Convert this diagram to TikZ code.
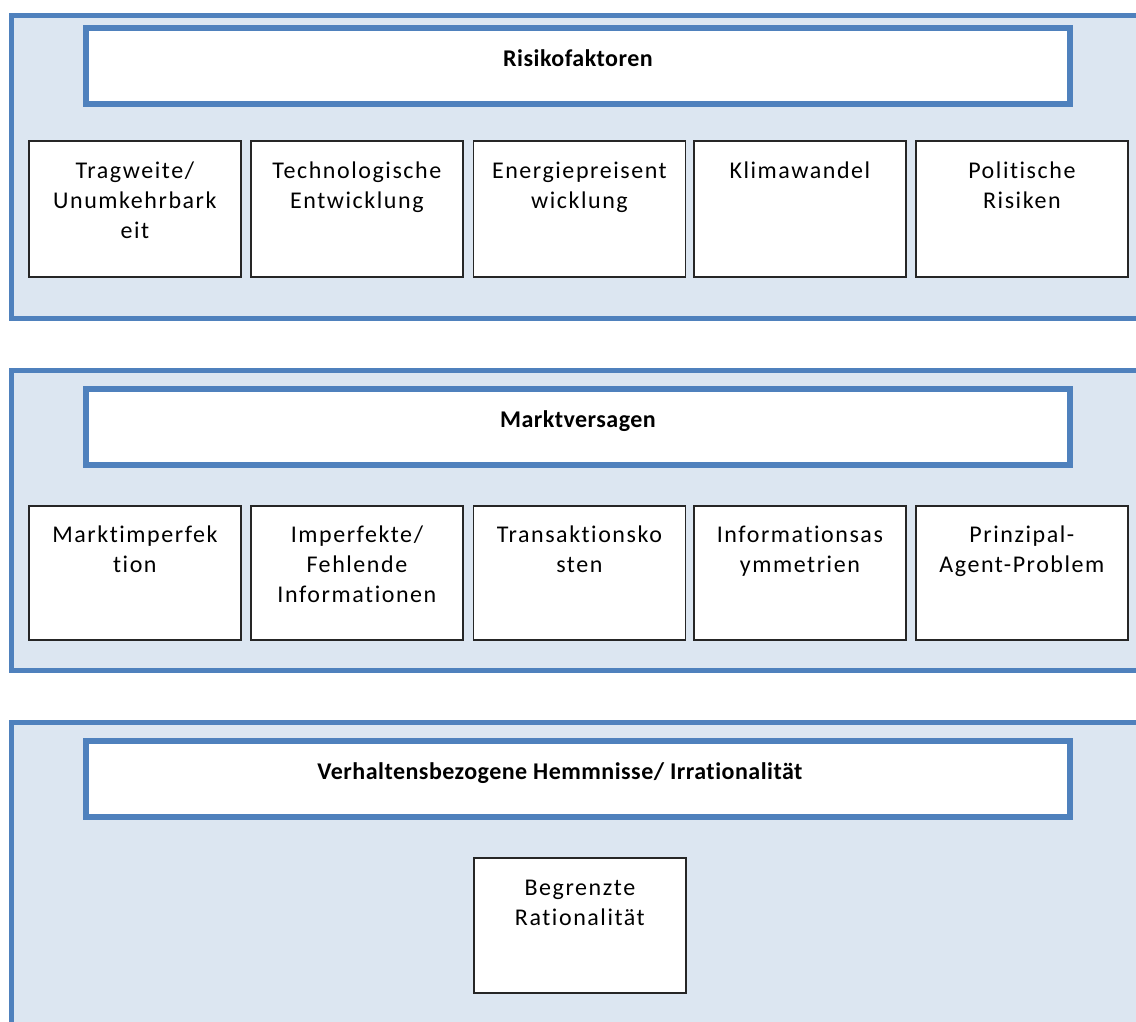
\documentclass[tikz,border=0pt]{standalone}
\usepackage{fontspec}
\setmainfont{Carlito}[Ligatures={NoCommon,NoContextual}]
\newfontfamily\cellfont{Carlito}[Ligatures={NoCommon,NoContextual},LetterSpace=6.5]
\newfontfamily\headfont{Carlito}[Ligatures={NoCommon,NoContextual},LetterSpace=2,
  UprightFont=*-Bold]
\definecolor{panelfill}{HTML}{DCE6F1}
\definecolor{panelline}{HTML}{4F81BD}
\definecolor{cellline}{HTML}{262626}

% Text of a cell: top-aligned block, first baseline 36.7pt below the frame
\newcommand\cellbody[1]{%
  \parbox[t][134pt][t]{210pt}{\centering\cellfont\fontsize{24}{30}\selectfont
    \rule{0pt}{36.7pt}#1\par}}

\begin{document}
\begin{tikzpicture}[x=1pt,y=-1pt,
  panel/.style={draw=panelline, line width=5pt, fill=panelfill},
  titlebox/.style={draw=panelline, line width=6pt, fill=white,
    minimum width=984pt, minimum height=76pt, inner sep=0pt,
    text height=10pt, text depth=10pt,
    font=\headfont\fontsize{24}{30}\selectfont},
  cell/.style={draw=cellline, line width=1.8pt, fill=white,
    inner sep=0pt, anchor=north west,
    minimum width=212pt, minimum height=136pt},
]
\useasboundingbox (0,0) rectangle (1136,1021);

% ---- Risikofaktoren
\path[panel] (11,15.5) rectangle (1160,318);
\node[titlebox] (t1) at (578,66) {Risikofaktoren};
\node[cell] (r1) at (28,140)  {\cellbody{Tragweite/\\Unumkehrbark\\eit}};
\node[cell] (r2) at (250,140) {\cellbody{Technologische\\Entwicklung}};
\node[cell] (r3) at (472.5,140) {\cellbody{Energiepreisent\\wicklung}};
\node[cell] (r4) at (693,140) {\cellbody{Klimawandel}};
\node[cell] (r5) at (915,140) {\cellbody{Politische\\Risiken}};

% ---- Marktversagen
\path[panel] (11,370) rectangle (1160,670.5);
\node[titlebox] (t2) at (578,427) {Marktversagen};
\node[cell,minimum height=134pt] (m1) at (28,505)  {\cellbody{Marktimperfek\\tion}};
\node[cell,minimum height=134pt] (m2) at (250,505) {\cellbody{Imperfekte/\\Fehlende\\Informationen}};
\node[cell,minimum height=134pt] (m3) at (472.5,505) {\cellbody{Transaktionsko\\sten}};
\node[cell,minimum height=134pt] (m4) at (693,505) {\cellbody{Informationsas\\ymmetrien}};
\node[cell,minimum height=134pt] (m5) at (915,505) {\cellbody{Prinzipal-\\Agent-Problem}};

% ---- Verhaltensbezogene Hemmnisse
\path[panel] (11,722.5) rectangle (1160,1040);
\node[titlebox] (t3) at (578,779) {Verhaltensbezogene Hemmnisse/ Irrationalität\hspace*{36pt}};
\node[cell,minimum height=135pt] (v1) at (473,857) {\cellbody{Begrenzte\\Rationalität}};
\end{tikzpicture}
\end{document}
